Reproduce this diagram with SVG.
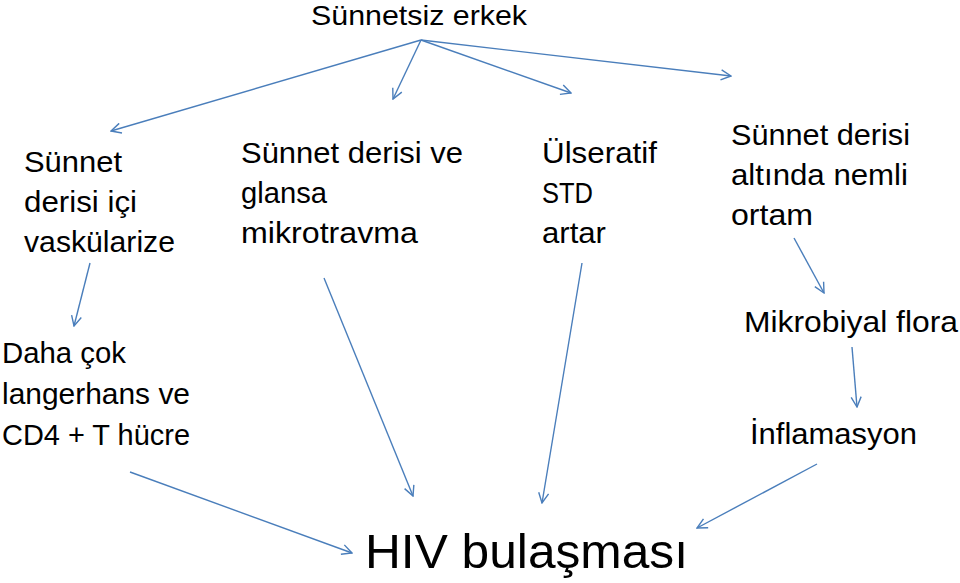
<svg xmlns="http://www.w3.org/2000/svg" width="960" height="583" viewBox="0 0 960 583">
<defs>
<style>
text{font-family:"Liberation Sans",Arial,sans-serif;font-size:29px;fill:#000}
.big{font-size:49px}
.c line{stroke:#4a7ebb;stroke-width:1.4;fill:none;marker-end:url(#ah)}
</style>
<marker id="ah" viewBox="0 0 12 12" refX="11" refY="6" markerWidth="12" markerHeight="12" markerUnits="userSpaceOnUse" orient="auto">
<path d="M1,1 L11,6 L1,11" fill="none" stroke="#4a7ebb" stroke-width="1.4"/>
</marker>
</defs>
<rect width="960" height="583" fill="#fff"/>
<g id="n-top"><text x="311" y="25" style="font-size:28px" textLength="216" lengthAdjust="spacingAndGlyphs">Sünnetsiz erkek</text></g>
<g id="n-vask">
<text x="24" y="172" textLength="98" lengthAdjust="spacingAndGlyphs">Sünnet</text>
<text x="24" y="212" textLength="113" lengthAdjust="spacingAndGlyphs">derisi içi</text>
<text x="24" y="252" textLength="151" lengthAdjust="spacingAndGlyphs">vaskülarize</text>
</g>
<g id="n-mikro">
<text x="241" y="163" textLength="222" lengthAdjust="spacingAndGlyphs">Sünnet derisi ve</text>
<text x="241" y="203" textLength="86" lengthAdjust="spacingAndGlyphs">glansa</text>
<text x="241" y="243" textLength="177" lengthAdjust="spacingAndGlyphs">mikrotravma</text>
</g>
<g id="n-std">
<text x="542" y="163" textLength="115" lengthAdjust="spacingAndGlyphs">Ülseratif</text>
<text x="542" y="203" textLength="51" lengthAdjust="spacingAndGlyphs">STD</text>
<text x="542" y="243" textLength="64" lengthAdjust="spacingAndGlyphs">artar</text>
</g>
<g id="n-nemli">
<text x="731" y="145" textLength="179" lengthAdjust="spacingAndGlyphs">Sünnet derisi</text>
<text x="731" y="185" textLength="177" lengthAdjust="spacingAndGlyphs">altında nemli</text>
<text x="731" y="225" textLength="82" lengthAdjust="spacingAndGlyphs">ortam</text>
</g>
<g id="n-lang">
<text x="2" y="363" textLength="124" lengthAdjust="spacingAndGlyphs">Daha çok</text>
<text x="2" y="404" textLength="188" lengthAdjust="spacingAndGlyphs">langerhans ve</text>
<text x="2" y="445" textLength="188" lengthAdjust="spacingAndGlyphs">CD4 + T hücre</text>
</g>
<g id="n-flora"><text x="744" y="332" textLength="214" lengthAdjust="spacingAndGlyphs">Mikrobiyal flora</text></g>
<g id="n-infl"><text x="750" y="444" textLength="167" lengthAdjust="spacingAndGlyphs">İnflamasyon</text></g>
<g id="n-hiv"><text class="big" x="365" y="568" textLength="323" lengthAdjust="spacingAndGlyphs">HIV bulaşması</text></g>
<g id="connectors" class="c">
<line x1="421" y1="40" x2="111" y2="131"/>
<line x1="421" y1="40" x2="393" y2="99"/>
<line x1="421" y1="40" x2="571" y2="93"/>
<line x1="421" y1="40" x2="731" y2="76"/>
<line x1="90" y1="263" x2="74" y2="326"/>
<line x1="324" y1="278" x2="413" y2="496"/>
<line x1="582" y1="263" x2="542" y2="503"/>
<line x1="794" y1="238" x2="824" y2="293"/>
<line x1="852" y1="347" x2="857" y2="407"/>
<line x1="130" y1="472" x2="352" y2="553"/>
<line x1="817" y1="464" x2="697" y2="528"/>
</g>
</svg>
